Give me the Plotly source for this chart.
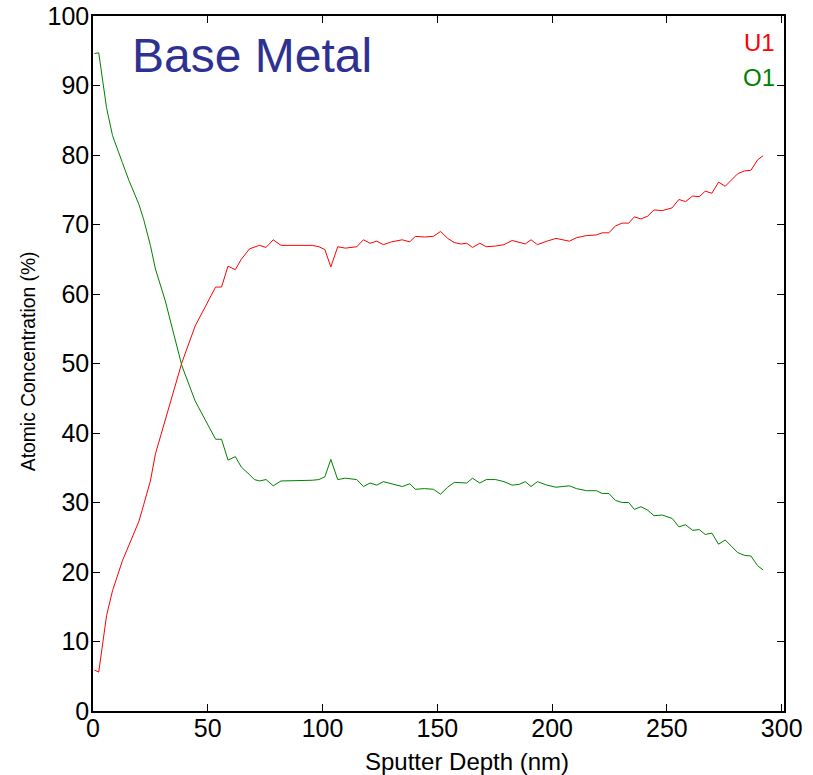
import plotly.graph_objects as go

depth_nm = [0.6, 2.5, 5.9, 8.5, 12.8, 15.7, 20, 22.1, 25, 27.2, 31.5, 35.8, 38.7, 44.5, 48,
            53.4, 56, 58.8, 62, 64.6, 68.2, 70.3, 72.5, 75.4, 78.5, 81.9, 95.5, 98.4, 101,
            103.6, 106.6, 109.9, 114.9, 117.8, 120.7, 123.6, 126.5, 130, 134.7, 138, 140.4,
            144.4, 148.3, 151.4, 154.5, 157.4, 160.2, 162.8, 165.3, 168.5, 171.3, 175.4, 179,
            182.6, 185.5, 188.3, 190.8, 193.6, 197.7, 201.7, 207.5, 210.6, 214.9, 219.3,
            221.8, 224.7, 227.6, 230.5, 233.4, 235.8, 238.7, 241.6, 244.4, 248, 252.3, 255.2,
            258.1, 261.2, 264.1, 266.7, 269.6, 272.5, 275.4, 280.8, 283.7, 286.6, 289.5, 291.9]

u1 = [5.9, 5.6, 13.7, 17.3, 21.6, 24.0, 27.3, 29.7, 33.1, 37.0, 42.0, 47.1, 50.1, 55.4, 57.6,
      61.0, 61.0, 64.0, 63.5, 65.0, 66.5, 66.8, 67.0, 66.7, 67.8, 67.0, 67.0, 66.8, 66.4,
      63.9, 66.8, 66.6, 66.8, 67.8, 67.3, 67.6, 67.1, 67.5, 67.8, 67.5, 68.3,
      68.2, 68.3, 69.0, 68.0, 67.4, 67.2, 67.3, 66.7, 67.3, 66.8, 66.9, 67.1,
      67.7, 67.5, 67.2, 67.8, 67.1, 67.6, 68.0, 67.6, 68.1, 68.4, 68.5,
      68.8, 68.8, 69.8, 70.2, 70.2, 71.1, 70.8, 71.2, 72.1, 72.0, 72.4, 73.6,
      73.3, 74.1, 74.0, 74.8, 74.5, 76.1, 75.5, 77.3, 77.7, 77.8, 79.3, 79.9]

o1 = [94.6, 94.7, 86.8, 82.8, 78.9, 76.3, 72.9, 70.7, 67.0, 63.6, 59.0, 53.5, 49.7, 44.6, 42.4,
      39.1, 39.1, 36.1, 36.6, 35.1, 34.0, 33.3, 33.1, 33.3, 32.4, 33.1, 33.2, 33.3, 33.7,
      36.2, 33.3, 33.5, 33.3, 32.3, 32.8, 32.5, 33.0, 32.7, 32.3, 32.7, 31.9,
      32.0, 31.9, 31.2, 32.2, 32.9, 32.9, 32.8, 33.5, 32.8, 33.3, 33.3, 33.0,
      32.5, 32.6, 33.0, 32.3, 33.0, 32.5, 32.2, 32.4, 32.0, 31.7, 31.7,
      31.3, 31.3, 30.3, 30.0, 30.0, 29.0, 29.4, 28.9, 28.1, 28.2, 27.7, 26.5,
      26.8, 26.0, 26.1, 25.4, 25.6, 24.0, 24.6, 22.8, 22.4, 22.3, 20.9, 20.3]

x_ticks = [0, 50, 100, 150, 200, 250, 300]
y_ticks = [0, 10, 20, 30, 40, 50, 60, 70, 80, 90, 100]

FONT = "Liberation Sans, Arial, sans-serif"

fig = go.Figure()
fig.add_trace(go.Scatter(x=depth_nm, y=u1, mode="lines", name="U1",
                         line=dict(color="#ff0000", width=1)))
fig.add_trace(go.Scatter(x=depth_nm, y=o1, mode="lines", name="O1",
                         line=dict(color="#008000", width=1)))

axis_common = dict(showline=True, linecolor="black", linewidth=1.5, mirror="ticks",
                   ticks="inside", ticklen=7, tickwidth=1, tickcolor="black",
                   showgrid=False, zeroline=False, automargin=False,
                   ticklabeloverflow="allow",
                   tickfont=dict(family=FONT, size=25, color="black"))

fig.update_xaxes(range=[0, 301], tickvals=x_ticks, ticktext=[str(v) for v in x_ticks],
                 ticklabelstandoff=-6, **axis_common)
fig.update_yaxes(range=[0, 100], tickvals=y_ticks, ticktext=[str(v) for v in y_ticks],
                 ticklabelstandoff=-3, **axis_common)

# axis titles
fig.add_annotation(x=0.541, y=-0.073, xref="paper", yref="paper", xanchor="center", yanchor="middle",
                   text="Sputter Depth (nm)", showarrow=False,
                   font=dict(family=FONT, size=24, color="black"))
fig.add_annotation(x=-0.093, y=0.503, xref="paper", yref="paper", xanchor="center", yanchor="middle",
                   text="Atomic Concentration (%)", showarrow=False, textangle=-90,
                   font=dict(family=FONT, size=19.3, color="black"))

fig.add_annotation(x=0.054, y=0.943, xref="paper", yref="paper", xanchor="left", yanchor="middle",
                   text="Base Metal", showarrow=False,
                   font=dict(family=FONT, size=48, color="#2e3192"))
fig.add_annotation(x=0.99, y=0.962, xref="paper", yref="paper", xanchor="right", yanchor="middle",
                   text="U1", showarrow=False, font=dict(family=FONT, size=24, color="#ff0000"))
fig.add_annotation(x=0.99, y=0.912, xref="paper", yref="paper", xanchor="right", yanchor="middle",
                   text="O1", showarrow=False, font=dict(family=FONT, size=24, color="#008000"))

fig.update_layout(width=813, height=775, showlegend=False,
                  margin=dict(l=92.5, r=28.7, t=15.7, b=64),
                  paper_bgcolor="white", plot_bgcolor="white")

# remove the default 8px page margin so the figure fills the window exactly
fig.write_html("out.html", config={"displayModeBar": False},
               post_script="document.body.style.margin='0px';")
